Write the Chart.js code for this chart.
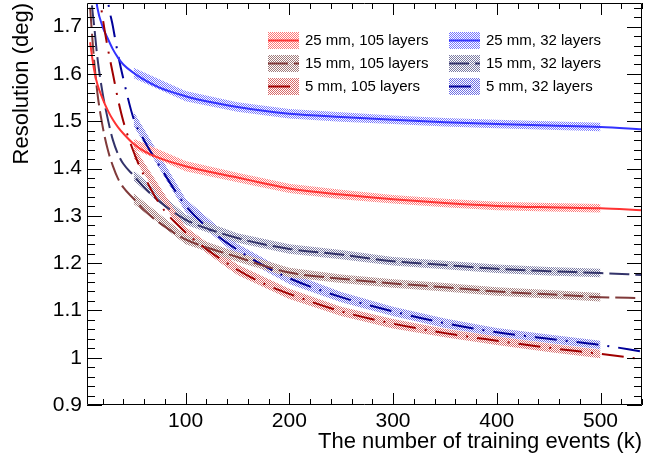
<!DOCTYPE html>
<html><head><meta charset="utf-8">
<script src="https://cdn.jsdelivr.net/npm/chart.js@4.4.1/dist/chart.umd.min.js"></script>
<style>html,body{margin:0;padding:0;background:#fff;}canvas{display:block;}</style>
</head><body>
<canvas id="c" width="646" height="461"></canvas>
<script>
// ---- data ----
const xs = [8,10,12,15,20,25,30,35,40,50,60,75,100,125,150,175,200,250,300,350,400,450,500,540];
const r25_105 = [1.667,1.635,1.607,1.578,1.548,1.523,1.503,1.487,1.474,1.452,1.437,1.422,1.405,1.392,1.381,1.369,1.358,1.345,1.335,1.327,1.321,1.318,1.316,1.312];
const r15_105 = [1.740,1.680,1.625,1.560,1.490,1.440,1.405,1.378,1.360,1.336,1.312,1.285,1.250,1.230,1.213,1.195,1.180,1.167,1.157,1.149,1.140,1.134,1.128,1.126];
const r5_105  = [null,null,null,1.800,1.720,1.655,1.600,1.545,1.500,1.435,1.385,1.325,1.265,1.222,1.186,1.157,1.135,1.098,1.072,1.052,1.036,1.021,1.008,0.997];
const r25_32  = [null,null,1.790,1.740,1.700,1.675,1.652,1.634,1.620,1.602,1.588,1.571,1.553,1.540,1.530,1.522,1.516,1.509,1.503,1.498,1.494,1.491,1.488,1.483];
const r15_32  = [1.800,1.740,1.700,1.635,1.560,1.505,1.460,1.430,1.410,1.385,1.360,1.330,1.292,1.270,1.253,1.240,1.230,1.218,1.204,1.196,1.188,1.183,1.179,1.175];
const r5_32   = [null,null,null,null,1.900,1.760,1.700,1.640,1.590,1.505,1.460,1.405,1.322,1.268,1.228,1.195,1.168,1.128,1.098,1.073,1.054,1.040,1.027,1.013];
// error bands (half widths) at the measured points
const bandX    = [50,100,150,200,250,300,350,400,450,500];
const e25_105 = [0.011,0.011,0.010,0.010,0.010,0.009,0.009,0.009,0.009,0.009];
const e15_105 = [0.011,0.010,0.010,0.010,0.009,0.009,0.009,0.009,0.009,0.009];
const e5_105  = [0.012,0.012,0.011,0.011,0.010,0.010,0.009,0.009,0.009,0.009];
const e25_32  = [0.011,0.011,0.010,0.010,0.010,0.009,0.009,0.009,0.009,0.009];
const e15_32  = [0.011,0.011,0.010,0.010,0.010,0.009,0.009,0.009,0.009,0.009];
const e5_32   = [0.015,0.014,0.013,0.012,0.011,0.010,0.010,0.009,0.009,0.009];
const labels = ['25 mm, 105 layers','15 mm, 105 layers','5 mm, 105 layers','25 mm, 32 layers','15 mm, 32 layers','5 mm, 32 layers'];
const xTicks = [100,200,300,400,500];
const yTicks = [0.9,1.0,1.1,1.2,1.3,1.4,1.5,1.6,1.7];

// ---- styles ----
const series = [
  {label:labels[0], y:r25_105, e:e25_105, color:'#ff3333', band:'#ff7777', dash:[]},
  {label:labels[1], y:r15_105, e:e15_105, color:'#803a3a', band:'#a07a7a', dash:[20,6]},
  {label:labels[2], y:r5_105,  e:e5_105,  color:'#a00000', band:'#d86a6a', dash:[22,9,2,9]},
  {label:labels[3], y:r25_32,  e:e25_32,  color:'#3333ff', band:'#7777ff', dash:[]},
  {label:labels[4], y:r15_32,  e:e15_32,  color:'#33336a', band:'#7a7aa2', dash:[20,6]},
  {label:labels[5], y:r5_32,   e:e5_32,   color:'#000099', band:'#7070e4', dash:[22,9,2,9]},
];
const FONT = 'Liberation Sans, Arial, Helvetica, sans-serif';
const canvas = document.getElementById('c');
const ctx0 = canvas.getContext('2d');
function hatch(color){
  const c = document.createElement('canvas'); c.width = 2; c.height = 2;
  const g = c.getContext('2d'); g.fillStyle = color;
  g.fillRect(0,0,1,1); g.fillRect(1,1,1,1);
  return ctx0.createPattern(c,'repeat');
}
series.forEach(s => s.pat = hatch(s.band));

const datasets = [];
series.forEach((s,i) => {
  const center = bandX.map(x => s.y[xs.indexOf(x)]);
  datasets.push({label:'lo'+i, data: bandX.map((x,k)=>({x, y:center[k]-s.e[k]})),
    borderWidth:0, pointRadius:0, fill:false, order:10, tension:0});
  datasets.push({label:'hi'+i, data: bandX.map((x,k)=>({x, y:center[k]+s.e[k]})),
    borderWidth:0, pointRadius:0, fill:'-1', backgroundColor:s.pat, order:10, tension:0});
});
series.forEach((s,i) => {
  datasets.push({label:s.label, data: xs.map((x,k)=>({x, y:s.y[k]})),
    borderColor:s.color, borderWidth:2, borderDash:s.dash, pointRadius:0, fill:false,
    cubicInterpolationMode:'monotone', order:0, spanGaps:false});
});

const frame = {
  id:'frame',
  afterDatasetsDraw(chart){
    const {ctx, chartArea:a, scales:{x, y}} = chart;
    ctx.save();
    ctx.strokeStyle = '#000'; ctx.lineWidth = 1;
    ctx.beginPath();
    ctx.rect(a.left+0.5, a.top+0.5, a.right-a.left-1, a.bottom-a.top-1);
    for (let v = 20; v <= x.max; v += 20) {
      const p = Math.round(x.getPixelForValue(v)) + 0.5;
      const L = (v % 100 === 0) ? 12 : 6;
      ctx.moveTo(p, a.bottom); ctx.lineTo(p, a.bottom - L);
      ctx.moveTo(p, a.top); ctx.lineTo(p, a.top + L);
    }
    for (let k = 0; ; k++) {
      const v = 0.9 + k*0.02; if (v > y.max + 1e-9) break;
      const p = Math.round(y.getPixelForValue(v)) + 0.5;
      const L = (k % 5 === 0) ? 15 : 8;
      ctx.moveTo(a.left, p); ctx.lineTo(a.left + L, p);
      ctx.moveTo(a.right, p); ctx.lineTo(a.right - L, p);
    }
    ctx.stroke();
    ctx.restore();
  },
  afterDraw(chart){
    const ctx = chart.ctx;
    ctx.save();
    const lines = chart.data.datasets.filter(d => d.order === 0);
    const cols = [268, 449], rows = [40, 63, 86];
    lines.forEach((d,i) => {
      const s = series[i];
      const bx = cols[Math.floor(i/3)], cy = rows[i%3];
      ctx.fillStyle = s.pat;
      ctx.fillRect(bx, cy-8, 31, 17);
      ctx.strokeStyle = s.color; ctx.lineWidth = 2; ctx.setLineDash(s.dash);
      ctx.beginPath(); ctx.moveTo(bx, cy+0.5); ctx.lineTo(bx+31, cy+0.5); ctx.stroke();
      ctx.setLineDash([]);
      ctx.fillStyle = '#000'; ctx.font = '15px ' + FONT;
      ctx.textBaseline = 'middle'; ctx.textAlign = 'left';
      ctx.fillText(d.label, bx+37, cy+1);
    });
    ctx.restore();
  }
};

new Chart(canvas, {
  type:'line',
  data:{datasets},
  options:{
    responsive:false, animation:false,
    layout:{padding:{top:3, right:4, left:0, bottom:0}},
    plugins:{legend:{display:false}, tooltip:{enabled:false}},
    scales:{
      x:{type:'linear', min:5, max:540,
        afterFit(s){ s.height = 56; s.paddingLeft = 0; s.paddingRight = 0; },
        afterBuildTicks(s){ s.ticks = xTicks.map(v => ({value:v})); },
        grid:{display:false, drawTicks:false}, border:{display:false},
        ticks:{font:{family:FONT, size:21}, color:'#000', padding:4, maxRotation:0, callback:v => String(v)},
        title:{display:true, text:'The number of training events (k)', align:'end', color:'#000',
          font:{family:FONT, size:22}, padding:{top:0, bottom:6}}
      },
      y:{type:'linear', min:0.9, max:1.75,
        afterFit(s){ s.width = 87; s.paddingTop = 0; s.paddingBottom = 0; },
        afterBuildTicks(s){ s.ticks = yTicks.map(v => ({value:v})); },
        grid:{display:false, drawTicks:false}, border:{display:false},
        ticks:{font:{family:FONT, size:21}, color:'#000', padding:5, callback:v => String(+v.toFixed(2))},
        title:{display:true, text:'Resolution (deg)', align:'end', color:'#000',
          font:{family:FONT, size:22}, padding:{top:9, bottom:0}}
      }
    }
  },
  plugins:[frame]
});
</script>
</body></html>
